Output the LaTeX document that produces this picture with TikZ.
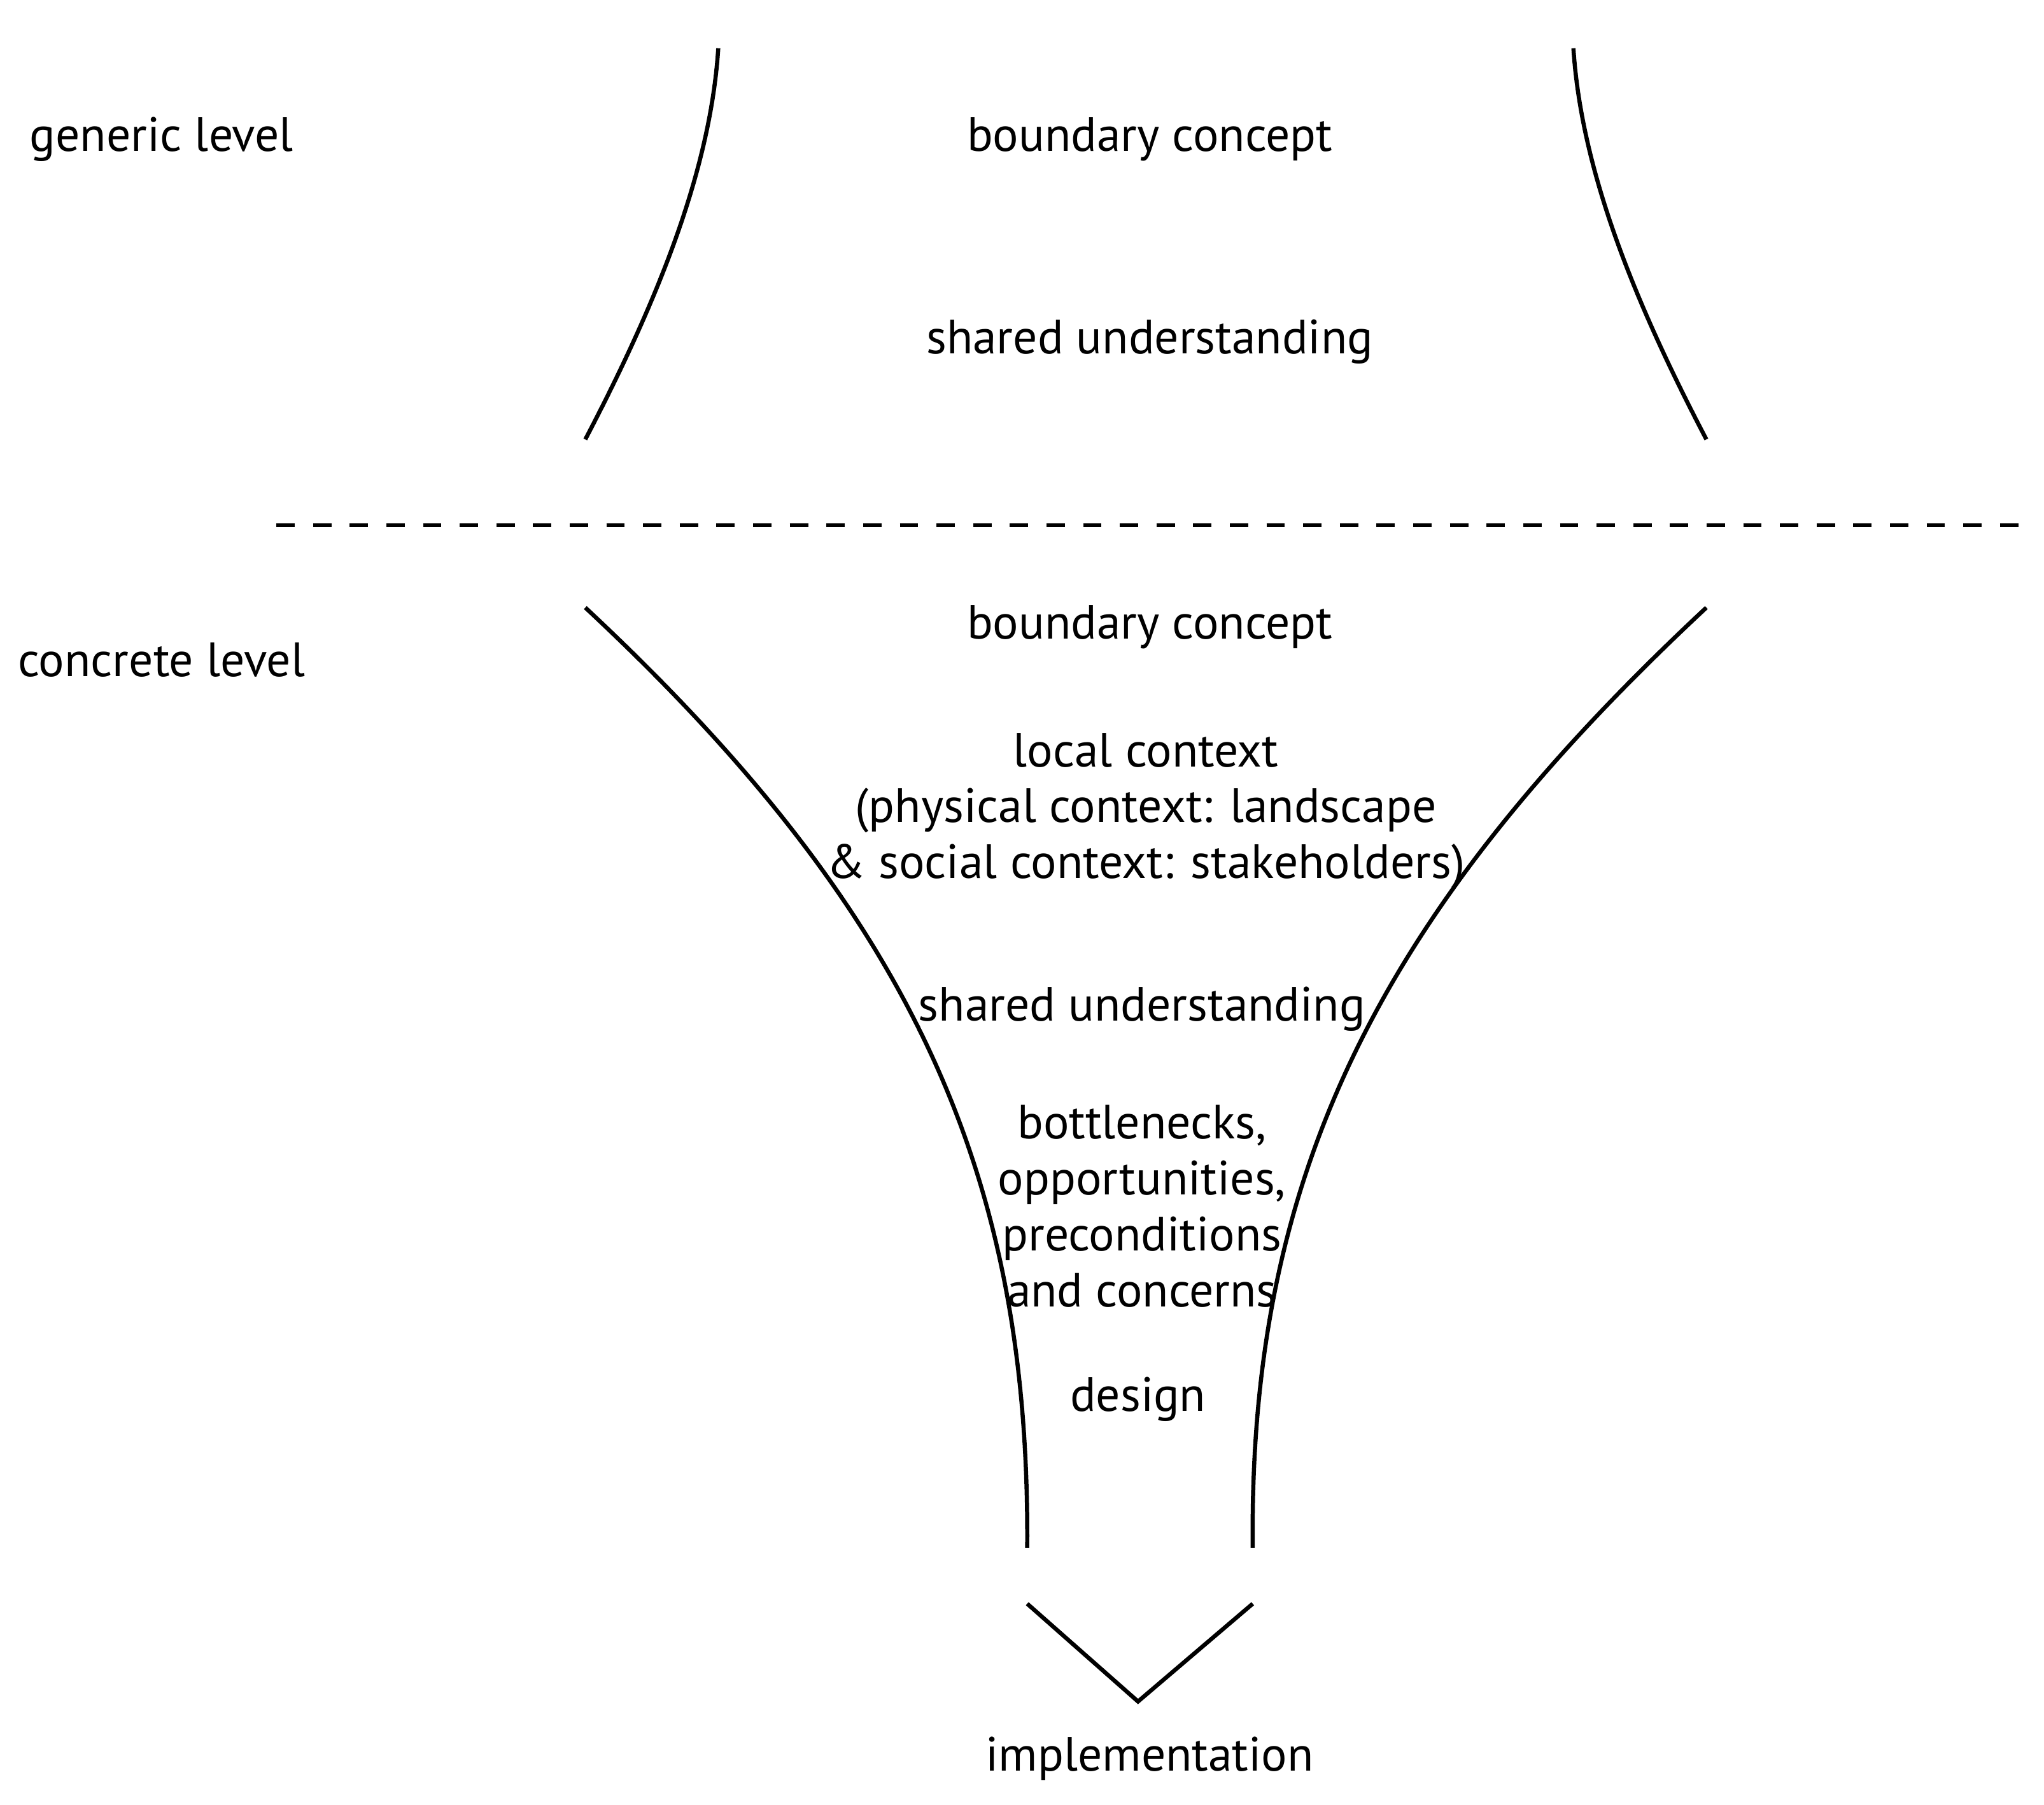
\documentclass[tikz,border=0pt]{standalone}
\usepackage{fontspec}
\setmainfont{PT Sans}
\begin{document}
\begin{tikzpicture}[x=0.01cm,y=-0.01cm,
  curve/.style={line width=0.9pt},
  lbl/.style={font=\fontsize{10.5pt}{12.2pt}\selectfont,align=center,inner sep=0pt}]
\useasboundingbox (0,0) rectangle (1568,1384);
\coordinate (a1) at (551,37); \coordinate (a2) at (449,337);
\coordinate (b1) at (1207,37); \coordinate (b2) at (1309,337);
\draw[curve] (a1) .. controls (545,130) and (505,230) .. (a2);
\draw[curve] (b1) .. controls (1213,130) and (1253,230) .. (b2);
\coordinate (d1) at (212,403); \coordinate (d2) at (1552,403);
\draw[line width=0.8pt,dash pattern=on 4pt off 4pt] (d1) -- (d2);
\coordinate (c1) at (449,466); \coordinate (c2) at (788,1187);
\coordinate (e1) at (1309,466); \coordinate (e2) at (961,1187);
\draw[curve] (c1) .. controls (700,700) and (790,900) .. (c2);
\draw[curve] (e1) .. controls (1058,700) and (958,900) .. (e2);
\coordinate (v1) at (788,1230); \coordinate (v2) at (873,1305); \coordinate (v3) at (961,1230);
\draw[curve] (v1) -- (v2) -- (v3);
\node[lbl] (gl) at (124,107) {generic level};
\node[lbl] (bc1) at (882,107) {boundary concept};
\node[lbl] (su1) at (882,262) {shared understanding};
\node[lbl] (cl) at (124,506) {concrete level};
\node[lbl] (bc2) at (882,481) {boundary concept};
\node[lbl] (lc) at (879,622) {local context\\(physical context: landscape\\\& social context: stakeholders)};
\node[lbl] (su2) at (876,774) {shared understanding};
\node[lbl] (bo) at (876,925) {bottlenecks,\\opportunities,\\preconditions\\and concerns};
\node[lbl] (de) at (873,1073) {design};
\node[lbl] (im) at (882,1349) {implementation};
\end{tikzpicture}
\end{document}
